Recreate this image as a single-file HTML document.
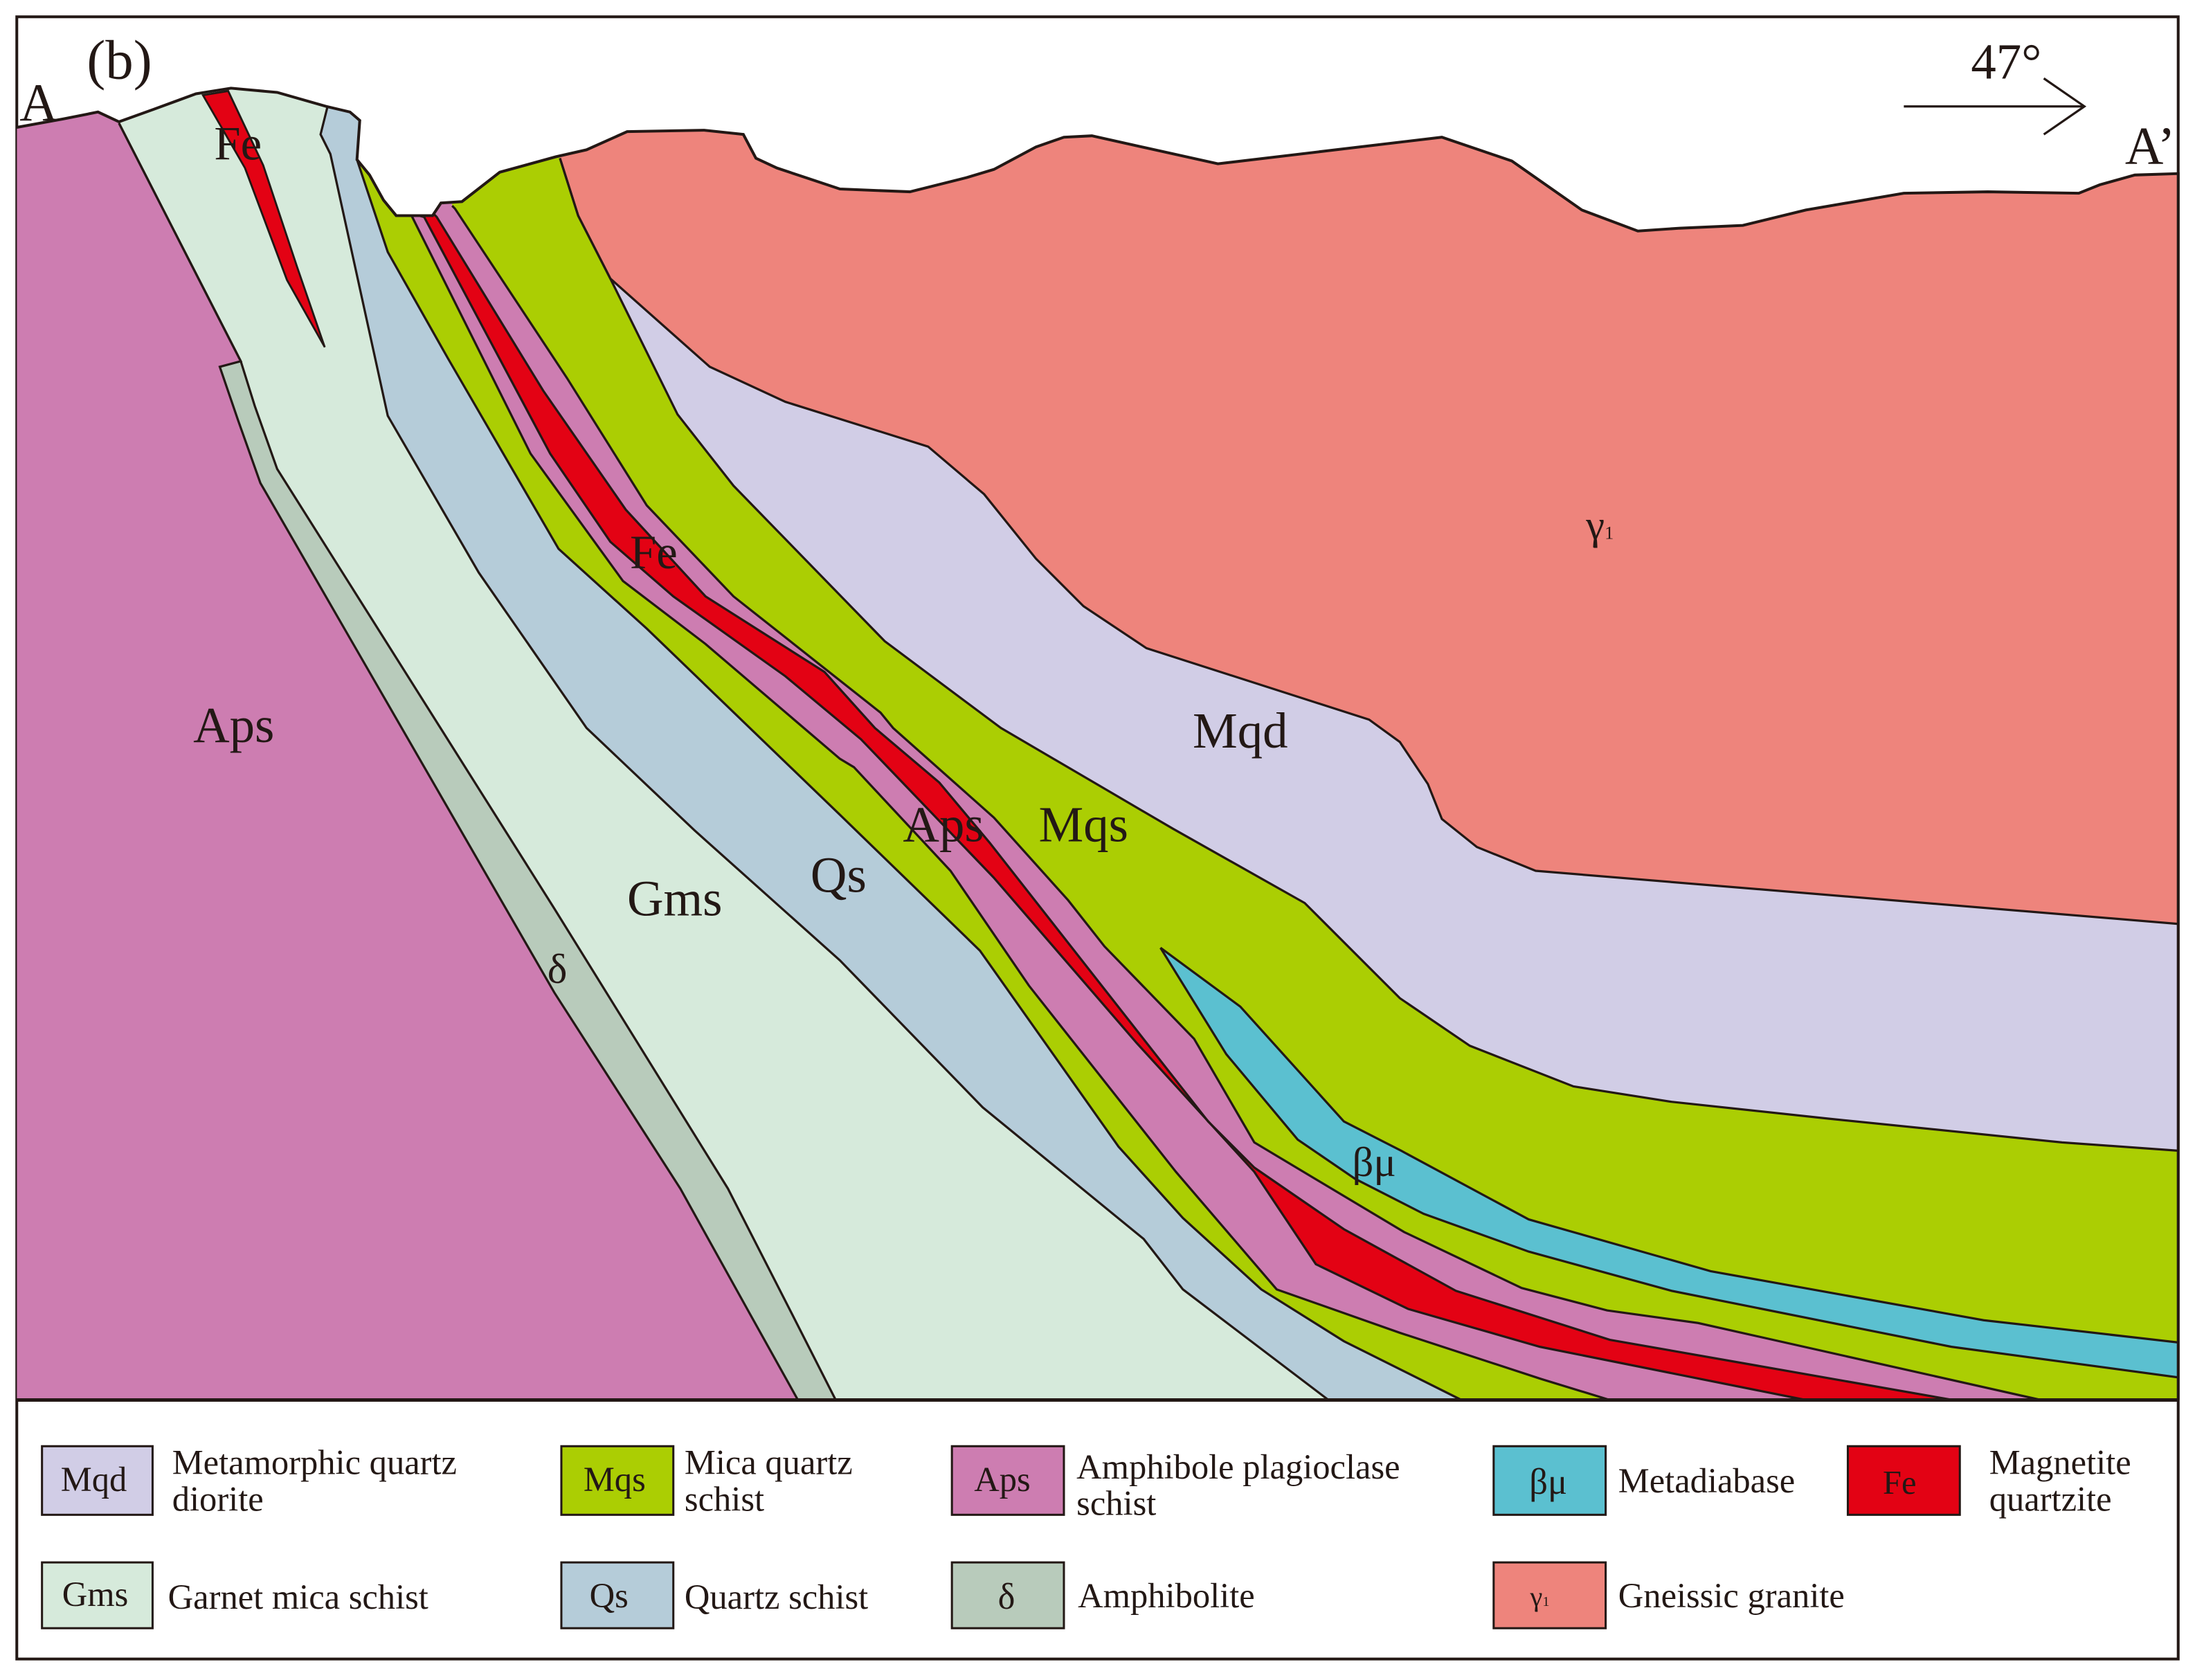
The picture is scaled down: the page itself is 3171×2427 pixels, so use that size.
<!DOCTYPE html>
<html><head><meta charset="utf-8"><style>
html,body{margin:0;padding:0;background:#fff}
svg{display:block}
text{font-family:"Liberation Serif",serif;fill:#231815}
</style></head><body>
<svg id="map" width="3171" height="2427" viewBox="0 0 1568 1200" preserveAspectRatio="none" xmlns="http://www.w3.org/2000/svg">
<defs><clipPath id="clip"><polygon id="clipPoly"/></clipPath></defs>
<rect x="12" y="12" width="1544" height="1173" fill="#fff" stroke="#231815" stroke-width="2"/>
<g id="units" clip-path="url(#clip)"></g>
<g id="lines" clip-path="url(#clip)" fill="none" stroke="#231815" stroke-width="1.6"></g>
<polyline id="topoLine" fill="none" stroke="#231815" stroke-width="2"/>
<line x1="12" y1="1000" x2="1556" y2="1000" stroke="#231815" stroke-width="2.5"/>
<g font-family="Liberation Serif, serif" font-size="36">
<text x="62" y="56" font-size="40">(b)</text>
<text x="14" y="86" font-size="38">A</text>
<text x="1518" y="117" font-size="38">A’</text>
<text x="1408" y="56" font-size="36">47°</text>
<line x1="1360" y1="76" x2="1488" y2="76" stroke="#231815" stroke-width="1.6"/>
<polyline points="1460,56 1489,76 1460,96" fill="none" stroke="#231815" stroke-width="1.6"/>
<text x="153" y="114" font-size="34">Fe</text>
<text x="138" y="530">Aps</text>
<text x="391" y="702" font-size="30" font-family="DejaVu Sans">δ</text>
<text x="448" y="654">Gms</text>
<text x="579" y="637">Qs</text>
<text x="450" y="406" font-size="34">Fe</text>
<text x="645" y="601">Aps</text>
<text x="742" y="601">Mqs</text>
<text x="852" y="534">Mqd</text>
<text x="1133" y="385" font-size="30" font-family="DejaVu Sans">γ<tspan font-size="13">1</tspan></text>
<text x="966" y="840" font-size="30" font-family="DejaVu Sans">βμ</text>
</g>
<g id="legend" font-family="Liberation Serif, serif" font-size="25">
<g><rect x="30" y="1033" width="79" height="49" fill="#d1cde6" stroke="#231815" stroke-width="1.5"/><text x="67" y="1065" text-anchor="middle" fill="#555" font-size="25">Mqd</text><text x="123" y="1053">Metamorphic quartz</text><text x="123" y="1079">diorite</text></g>
<g><rect x="401" y="1033" width="80" height="49" fill="#abce03" stroke="#231815" stroke-width="1.5"/><text x="439" y="1065" text-anchor="middle" fill="#555" font-size="25">Mqs</text><text x="489" y="1053">Mica quartz</text><text x="489" y="1079">schist</text></g>
<g><rect x="680" y="1033" width="80" height="49" fill="#cd7db1" stroke="#231815" stroke-width="1.5"/><text x="716" y="1065" text-anchor="middle" fill="#555" font-size="25">Aps</text><text x="769" y="1056">Amphibole plagioclase</text><text x="769" y="1082">schist</text></g>
<g><rect x="1067" y="1033" width="80" height="49" fill="#5bc0d0" stroke="#231815" stroke-width="1.5"/><text x="1106" y="1067" text-anchor="middle" fill="#333" font-size="26" font-family="DejaVu Sans">βμ</text><text x="1156" y="1066">Metadiabase</text></g>
<g><rect x="1320" y="1033" width="80" height="49" fill="#e30214" stroke="#231815" stroke-width="1.5"/><text x="1357" y="1067" text-anchor="middle" fill="#555" font-size="24">Fe</text><text x="1421" y="1053">Magnetite</text><text x="1421" y="1079">quartzite</text></g>
<g><rect x="30" y="1116" width="79" height="47" fill="#d6eadb" stroke="#231815" stroke-width="1.5"/><text x="68" y="1147" text-anchor="middle" fill="#555" font-size="25">Gms</text><text x="120" y="1149">Garnet mica schist</text></g>
<g><rect x="401" y="1116" width="80" height="47" fill="#b5ccd9" stroke="#231815" stroke-width="1.5"/><text x="435" y="1148" text-anchor="middle" fill="#555" font-size="25">Qs</text><text x="489" y="1149">Quartz schist</text></g>
<g><rect x="680" y="1116" width="80" height="47" fill="#b8cbbb" stroke="#231815" stroke-width="1.5"/><text x="719" y="1149" text-anchor="middle" fill="#231815" font-size="26" font-family="DejaVu Sans">δ</text><text x="770" y="1148">Amphibolite</text></g>
<g><rect x="1067" y="1116" width="80" height="47" fill="#ee847c" stroke="#231815" stroke-width="1.5"/><text x="1100" y="1147" text-anchor="middle" fill="#555" font-size="20" font-family="DejaVu Sans">γ<tspan font-size="10">1</tspan></text><text x="1156" y="1148">Gneissic granite</text></g>
</g>
</svg>
<script>
const topo = [[12,91],[45,85],[70,80],[85,87],[110,78],[140,67],[165,63],[198,66],[233,76],[250,80],[257,86],[255,114],[264,125],[274,143],[283,154],[309,154],[315,145],[330,144],[357,123],[397,112],[419,107],[448,94],[503,93],[531,96],[540,113],[555,120],[600,135],[650,137],[690,127],[710,121],[740,105],[760,98],[780,97],[870,117],[1030,98],[1080,115],[1130,150],[1170,165],[1200,163],[1245,161],[1290,150],[1360,138],[1420,137],[1485,138],[1500,132],[1525,125],[1556,124]];
const bDelta = [[85,88],[172,258],[157,262],[170,300],[186,345],[396,709],[486,849],[536,939],[570,1000]];
const bGms = [[85,88],[172,258],[182,290],[198,335],[396,649],[520,849],[566,939],[597,1000]];
const bQs = [[234,76],[229,96],[236,110],[277,297],[342,409],[419,520],[496,593],[600,686],[702,791],[817,885],[845,921],[949,1000]];
const bMqs1 = [[257,86],[255,114],[277,180],[320,256],[399,392],[462,449],[600,582],[700,679],[799,819],[845,870],[901,921],[960,958],[1044,1000]];
const bAps2 = [[290,152],[294,154],[379,324],[445,415],[504,460],[600,542],[610,548],[679,622],[735,704],[840,837],[912,921],[1000,952],[1101,985],[1150,1000]];
const bFe = [[299,154],[303,155],[393,324],[436,387],[481,426],[561,483],[615,528],[710,627],[812,745],[896,837],[940,903],[1006,935],[1100,962],[1290,1000]];
const bAps3 = [[310,153],[312,155],[388,279],[447,364],[504,426],[589,480],[625,520],[671,559],[707,602],[863,801],[896,834],[960,878],[1040,922],[1150,957],[1395,1000]];
const bMqs2 = [[323,147],[325,149],[405,270],[462,361],[524,426],[629,509],[638,520],[710,584],[763,643],[789,676],[853,742],[896,816],[1003,880],[1087,920],[1148,936],[1213,945],[1458,1000]];
const bMqd = [[400,113],[413,154],[436,199],[484,296],[524,347],[632,458],[715,520],[838,592],[932,645],[1000,713],[1050,747],[1124,776],[1194,787],[1306,799],[1473,816],[1557,822]];
const bGamma = [[400,113],[413,154],[436,199],[507,262],[561,287],[663,319],[703,353],[740,399],[774,433],[819,463],[978,514],[1000,530],[1020,560],[1030,585],[1055,605],[1097,622],[1557,660]];
const betaUpper = [[829,677],[886,719],[960,801],[1001,822],[1092,871],[1222,908],[1417,943],[1557,959]];
const betaLower = [[829,677],[876,753],[927,814],[968,842],[1017,867],[1092,894],[1194,922],[1394,962],[1557,984]];
const feLens = [[145,68],[163,65],[188,118],[212,190],[232,248],[205,200],[175,120]];
const unitColors = ['#b8cbbb','#d6eadb','#b5ccd9','#abce03','#cd7db1','#e30214','#cd7db1','#abce03','#d1cde6','#ee847c'];
const unitNames = ['amphibolite','garnet-mica-schist','quartz-schist','mica-quartz-schist-lower','amphibole-schist-lower','magnetite-quartzite','amphibole-schist-upper','mica-quartz-schist-upper','metamorphic-quartz-diorite','gneissic-granite'];

const NS = 'http://www.w3.org/2000/svg';
const P = a => a.map(p => p[0] + ',' + p[1]).join(' ');
const clipPts = topo.concat([[1556,1000],[12,1000]]);
document.getElementById('clipPoly').setAttribute('points', P(clipPts));
const units = document.getElementById('units');
const lines = document.getElementById('lines');
const base = document.createElementNS(NS, 'polygon');
base.setAttribute('points', P(clipPts));
base.setAttribute('fill', '#cd7db1');


units.appendChild(base);
function regionRight(b) {
  const last = b[b.length - 1];
  const pts = b.slice();
  if (last[1] >= 999) { pts.push([last[0], 1020], [1620, 1020]); }
  else { pts.push([1620, last[1]]); }
  pts.push([1620, -20], [b[0][0], -20]);
  return pts;
}
const bounds = [bDelta, bGms, bQs, bMqs1, bAps2, bFe, bAps3, bMqs2, bMqd, bGamma];
bounds.forEach((b, i) => {
  const pg = document.createElementNS(NS, 'polygon');
  pg.setAttribute('points', P(regionRight(b)));
  pg.setAttribute('fill', unitColors[i]);
  
  
  units.appendChild(pg);
  if (i === 1) {
    const fe = document.createElementNS(NS, 'polygon');
    fe.setAttribute('points', P(feLens));
    fe.setAttribute('fill', '#e30214');
    fe.setAttribute('stroke', '#231815');
    fe.setAttribute('stroke-width', '1.4');
    
    
    units.appendChild(fe);
  }
});
const beta = document.createElementNS(NS, 'polygon');
beta.setAttribute('points', P(betaUpper.concat(betaLower.slice().reverse())));
beta.setAttribute('fill', '#5bc0d0');


units.appendChild(beta);
bounds.concat([betaUpper, betaLower]).forEach((b) => {
  const pl = document.createElementNS(NS, 'polyline');
  pl.setAttribute('points', P(b));
  
  
  lines.appendChild(pl);
});
document.getElementById('topoLine').setAttribute('points', P(topo.concat([[1556,1000]])));
</script>
</body></html>
